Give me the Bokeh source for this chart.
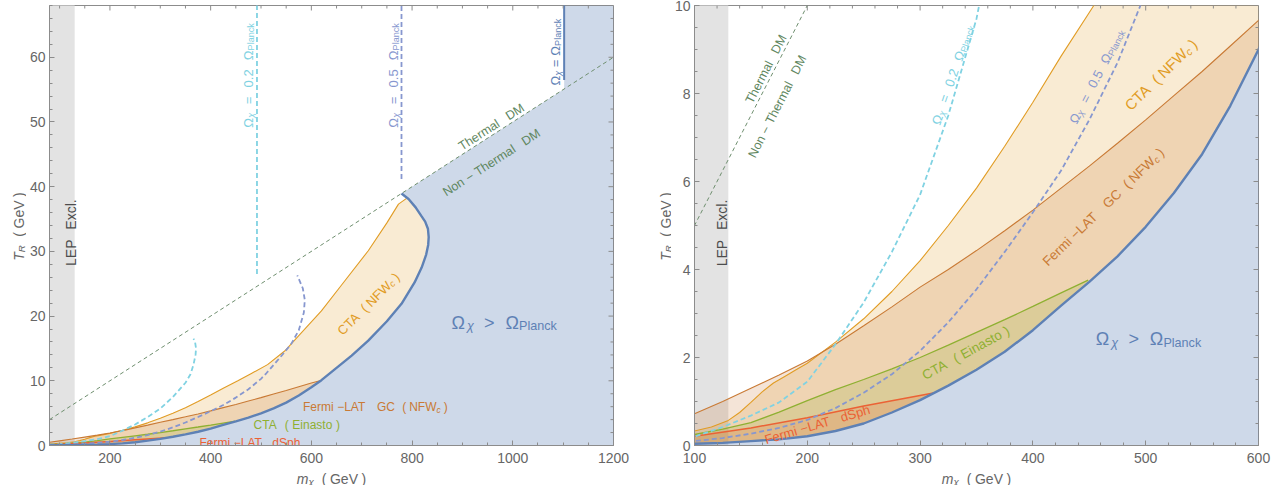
import math
from bokeh.plotting import figure
from bokeh.layouts import row, column
from bokeh.models import Range1d, SingleIntervalTicker, ColumnDataSource
from bokeh.core.properties import value
from bokeh.embed import file_html
from bokeh.resources import INLINE

# ---------------- data (m_chi in GeV, T_R in GeV) ----------------
# Omega_chi = Omega_Planck boundary (non-thermal branch)
planck_m = [80, 100, 125, 150, 175, 200, 225, 250, 275, 300, 325, 350, 375, 400, 425, 450, 475, 500,
            525, 550, 575, 600, 620, 650, 680, 713, 750, 779, 805, 819, 828, 832, 833, 831.5, 826, 819,
            807, 793, 779]
planck_T = [0.02, 0.04, 0.06, 0.1, 0.14, 0.21, 0.33, 0.5, 0.75, 1.03, 1.36, 1.72, 2.13, 2.62, 3.18, 3.72,
            4.3, 4.97, 5.74, 6.62, 7.72, 9.0, 10.1, 12.0, 13.9, 16.2, 19.2, 21.9, 25.2, 27.5, 29.5, 31.0,
            32.2, 33.5, 34.6, 35.4, 36.8, 38.1, 38.95]
# CTA (NFW_c) upper limit
cta_m = [80, 100, 115, 130, 140, 150, 160, 170, 180, 190, 200, 225, 250, 275, 300, 325, 350, 375, 400,
         425, 454, 480, 513, 547, 580, 620, 660, 713, 750, 773, 789]
cta_T = [0.18, 0.33, 0.42, 0.57, 0.75, 0.98, 1.22, 1.42, 1.57, 1.72, 1.87, 2.35, 2.88, 3.5, 4.2, 5.0,
         5.85, 6.8, 7.8, 8.85, 10.0, 11.1, 12.5, 14.6, 17.4, 20.8, 24.8, 30.1, 34.4, 37.3, 38.2]
# Fermi-LAT GC (NFW_c)
gc_m = [80, 100, 125, 150, 175, 200, 225, 250, 275, 300, 325, 350, 375, 400, 425, 450, 475, 500, 525,
        550, 575, 600, 617]
gc_T = [0.5, 0.72, 1.0, 1.3, 1.6, 1.92, 2.3, 2.72, 3.15, 3.6, 4.0, 4.43, 4.88, 5.35, 5.85, 6.35, 6.87,
        7.4, 7.95, 8.5, 9.08, 9.66, 10.0]
# CTA (Einasto)
ein_m = [80, 100, 125, 150, 175, 200, 225, 250, 275, 300, 325, 350, 375, 400, 425, 449]
ein_T = [0.17, 0.25, 0.37, 0.52, 0.76, 1.02, 1.27, 1.5, 1.74, 2.0, 2.28, 2.57, 2.86, 3.16, 3.47, 3.76]
# Fermi-LAT dSph
dsph_m = [80, 100, 150, 200, 250, 313]
dsph_T = [0.15, 0.21, 0.4, 0.63, 0.9, 1.2]
# Omega_chi = 0.2 Omega_Planck (non-thermal branch)
om02_m = [80, 100, 125, 150, 175, 200, 225, 250, 275, 300, 325, 350, 360, 366, 370, 371, 369, 366]
om02_T = [0.12, 0.2, 0.42, 0.68, 0.98, 1.45, 2.3, 3.25, 4.4, 5.7, 7.5, 9.7, 11.0, 12.5, 14.0, 15.0, 16.0, 16.5]
# Omega_chi = 0.5 Omega_Planck (non-thermal branch)
om05_m = [80, 100, 125, 150, 175, 200, 225, 250, 275, 300, 325, 350, 375, 400, 425, 450, 475, 500,
          511, 540, 560, 575, 585, 587, 583, 572]
om05_T = [0.06, 0.1, 0.17, 0.27, 0.4, 0.58, 0.85, 1.2, 1.62, 2.15, 2.8, 3.55, 4.4, 5.3, 6.25, 7.4, 8.7,
          10.3, 11.2, 13.8, 15.7, 17.8, 20.5, 22.5, 24.3, 26.3]
# thermal / non-thermal boundary
thermal_m = [80, 1200]
thermal_T = [4.0, 60.0]
# point on that boundary where the Omega > Omega_Planck region turns vertical
thermal_edge_m = [1102]
thermal_edge_T = [55.1]
# thermal branch (vertical) contours: 0.2, 0.5, 1.0 Omega_Planck
therm_vert_m = [492, 779, 1102]
therm_vert_T0 = [26.5, 41.2, 56.5]
LEP_LIMIT = 130

X_LEFT, Y_LEFT = (80, 1200), (0, 68)
X_RIGHT, Y_RIGHT = (100, 600), (0, 10)

# ---------------- style ----------------
FONT = "Liberation Sans"
BLUE = "#5e81b5"
ORANGE = "#e19c24"
BROWN = "#c97a35"
GREEN = "#8fb032"
RED = "#eb6235"
CYAN = "#80d2e2"
PURPLE = "#8797cf"
TH_TXT = "#5f875f"
TH_LINE = "#6e8e6e"
LEP_COL = "#e3e3e3"
AXIS_COL = "#8c8c8c"
LABEL_COL = "#666666"
FW, FH = 564, 440
TOP, BOT = 5, 20

AW = {' ': 278, '(': 333, ')': 333, '.': 278, '=': 584, '>': 584, '\u2212': 584, '-': 333,
      'A': 667, 'C': 722, 'D': 722, 'E': 667, 'F': 611, 'G': 778, 'L': 556, 'M': 833, 'N': 722,
      'P': 667, 'T': 611, 'W': 944, 'R': 722, 'S': 667, 'V': 667,
      'a': 556, 'c': 500, 'd': 556, 'e': 556, 'h': 556, 'i': 222, 'k': 500, 'l': 222, 'm': 833,
      'n': 556, 'o': 556, 'p': 556, 'r': 333, 's': 500, 't': 278, 'x': 500,
      '\u03a9': 760, '\u03c7': 500}


def seg_layout(segs, size):
    items, total = [], 0.0
    for txt, kind in segs:
        if kind == 'g':
            total += txt * size
            continue
        sub = kind.startswith('s')
        fs = size * 0.7 if sub else size
        st = 'italic' if kind.endswith('i') else 'normal'
        w = sum(AW.get(c, 556) for c in txt) / 1000.0 * fs
        perp = -0.36 * size - (0.2 * size if sub else 0.0)
        items.append((txt, fs, st, total, perp))
        total += w
    return [(t, fs, st, d - total / 2.0, pp) for (t, fs, st, d, pp) in items]


def data_label(p, x, y, angle, segs, color, size, scale):
    kx, ky = scale
    a = math.radians(angle)
    ca, sa = math.cos(a), math.sin(a)
    src = dict(x=[], y=[], t=[], fs=[], st=[])
    for t, fs, st, d, pp in seg_layout(segs, size):
        px = d * ca - pp * sa
        py = d * sa + pp * ca
        src['x'].append(x + px / kx)
        src['y'].append(y + py / ky)
        src['t'].append(t)
        src['fs'].append("%.2fpx" % fs)
        src['st'].append(st)
    p.text(x='x', y='y', text='t', source=ColumnDataSource(src), angle=a,
           text_align='left', text_baseline='alphabetic', text_font=value(FONT),
           text_font_size='fs', text_font_style='st', text_color=color)


def closed_region(cm, cT):
    idx = [i for i in range(len(planck_m)) if planck_T[i] < cT[-1]]
    xs = list(cm) + [planck_m[i] for i in reversed(idx)]
    ys = list(cT) + [planck_T[i] for i in reversed(idx)]
    return xs, ys


def tick_values(lo, hi, interval, nminor):
    step = interval / nminor
    major, minor = [], []
    k = math.ceil(lo / step - 1e-9)
    while k * step <= hi + 1e-9:
        v = k * step
        if abs(v / interval - round(v / interval)) < 1e-9:
            major.append(v)
        else:
            minor.append(v)
        k += 1
    return major, minor


def frame_ticks(p, xr, yr, scale, xint, xminor, yint, yminor):
    kx, ky = scale
    xM, xm = tick_values(xr[0], xr[1], xint, xminor)
    yM, ym = tick_values(yr[0], yr[1], yint, yminor)
    for vals, ln in ((xM, 5), (xm, 3)):
        p.segment(x0=vals, y0=[yr[1]] * len(vals), x1=vals, y1=[yr[1] - ln / ky] * len(vals),
                  line_color=AXIS_COL, line_width=1)
    for vals, ln in ((yM, 5), (ym, 3)):
        p.segment(x0=[xr[1]] * len(vals), y0=vals, x1=[xr[1] - ln / kx] * len(vals), y1=vals,
                  line_color=AXIS_COL, line_width=1)


def make_fig(xr, yr, bl, br, xint, xminor, yint, yminor):
    p = figure(x_range=Range1d(*xr), y_range=Range1d(*yr), frame_width=FW, frame_height=FH,
               min_border_left=bl, min_border_right=br, min_border_top=TOP, min_border_bottom=BOT,
               output_backend="svg", toolbar_location=None)
    p.background_fill_color = "white"
    p.border_fill_color = "white"
    p.outline_line_color = AXIS_COL
    p.grid.visible = False
    p.xaxis.ticker = SingleIntervalTicker(interval=xint, num_minor_ticks=xminor)
    p.yaxis.ticker = SingleIntervalTicker(interval=yint, num_minor_ticks=yminor)
    for ax in p.axis:
        ax.axis_line_color = AXIS_COL
        ax.major_tick_line_color = AXIS_COL
        ax.minor_tick_line_color = AXIS_COL
        ax.major_tick_in = 5
        ax.major_tick_out = 0
        ax.minor_tick_in = 3
        ax.minor_tick_out = 0
        ax.major_label_text_font = FONT
        ax.major_label_text_font_size = "14px"
        ax.major_label_text_color = LABEL_COL
    p.xaxis.major_label_standoff = 7
    p.yaxis.major_label_standoff = 4
    scale = (FW / (xr[1] - xr[0]), FH / (yr[1] - yr[0]))

    # LEP exclusion
    p.quad(left=xr[0] - 50, right=LEP_LIMIT, bottom=yr[0] - 10, top=yr[1] + 10,
           fill_color=LEP_COL, line_color=None)
    # Omega > Omega_Planck region
    bx = planck_m + thermal_edge_m + [thermal_edge_m[0], X_LEFT[1], X_LEFT[1], planck_m[0]]
    by = planck_T + thermal_edge_T + [Y_LEFT[1], Y_LEFT[1], 0, 0]
    p.patch(bx, by, fill_color=BLUE, fill_alpha=0.3, line_color=None)
    # indirect detection regions
    for cm, cT, col in ((cta_m, cta_T, ORANGE), (gc_m, gc_T, BROWN), (ein_m, ein_T, GREEN), (dsph_m, dsph_T, RED)):
        xs, ys = closed_region(cm, cT)
        p.patch(xs, ys, fill_color=col, fill_alpha=0.2, line_color=None)
    # boundary lines
    p.line(thermal_m, thermal_T, line_color=TH_LINE, line_width=1, line_dash="4 3")
    p.line(cta_m, cta_T, line_color=ORANGE, line_width=1.1)
    p.line(gc_m, gc_T, line_color=BROWN, line_width=1.1)
    p.line(ein_m, ein_T, line_color=GREEN, line_width=1.3)
    p.line(dsph_m, dsph_T, line_color=RED, line_width=1.5)
    p.line(om02_m, om02_T, line_color=CYAN, line_width=1.8, line_dash="5 3")
    p.line(om05_m, om05_T, line_color=PURPLE, line_width=1.8, line_dash="5 3")
    p.line(planck_m, planck_T, line_color=BLUE, line_width=2.4)
    top = [Y_LEFT[1] + 5]
    p.segment(x0=therm_vert_m[0:1], y0=therm_vert_T0[0:1], x1=therm_vert_m[0:1], y1=top,
              line_color=CYAN, line_width=1.8, line_dash="5 3")
    p.segment(x0=therm_vert_m[1:2], y0=therm_vert_T0[1:2], x1=therm_vert_m[1:2], y1=top,
              line_color=PURPLE, line_width=1.8, line_dash="5 3")
    p.segment(x0=therm_vert_m[2:3], y0=therm_vert_T0[2:3], x1=therm_vert_m[2:3], y1=top,
              line_color=BLUE, line_width=2.0)
    frame_ticks(p, xr, yr, scale, xint, xminor, yint, yminor)
    return p, scale


def blank_fig(w, h, top, bottom):
    f = figure(x_range=Range1d(0, w), y_range=Range1d(0, h), frame_width=w, frame_height=h,
               min_border_left=0, min_border_right=0, min_border_top=top, min_border_bottom=bottom,
               output_backend="svg", toolbar_location=None)
    f.axis.visible = False
    f.grid.visible = False
    f.outline_line_color = None
    f.background_fill_color = "white"
    f.border_fill_color = "white"
    return f


SUB_OM = [("\u03a9", 'n'), ("\u03c7", 'si')]
PLANCK = [("\u03a9", 'n'), ("Planck", 's')]


def omega_frac(frac):
    return SUB_OM + [(0.7, 'g'), ("=", 'n'), (0.7, 'g'), (frac, 'n'), (0.7, 'g')] + PLANCK


OM_EQ = SUB_OM + [(0.3, 'g'), ("=", 'n'), (0.3, 'g')] + PLANCK
OM_GT = [("\u03a9", 'n'), (0.1, 'g'), ("\u03c7", 'si'), (0.6, 'g'), (">", 'n'), (0.6, 'g')] + PLANCK
LEP_T = [("LEP", 'n'), (0.7, 'g'), ("Excl.", 'n')]
TH_T = [("Thermal", 'n'), (0.8, 'g'), ("DM", 'n')]
NTH_T = [("Non", 'n'), (0.3, 'g'), ("\u2212", 'n'), (0.3, 'g'), ("Thermal", 'n'), (0.8, 'g'), ("DM", 'n')]
CTA_N = [("CTA", 'n'), (0.5, 'g'), ("(", 'n'), (0.25, 'g'), ("NFW", 'n'), ("c", 'si'), (0.25, 'g'), (")", 'n')]
GC_N = [("Fermi", 'n'), (0.3, 'g'), ("\u2212LAT", 'n'), (0.9, 'g'), ("GC", 'n'), (0.6, 'g'), ("(", 'n'),
        (0.25, 'g'), ("NFW", 'n'), ("c", 'si'), (0.25, 'g'), (")", 'n')]
EIN_N = [("CTA", 'n'), (0.6, 'g'), ("(", 'n'), (0.3, 'g'), ("Einasto", 'n'), (0.3, 'g'), (")", 'n')]
DSPH_N = [("Fermi", 'n'), (0.3, 'g'), ("\u2212LAT", 'n'), (0.8, 'g'), ("dSph", 'n')]
XT = [("m", 'ni'), ("\u03c7", 'si'), (0.6, 'g'), ("(", 'n'), (0.25, 'g'), ("GeV", 'n'), (0.25, 'g'), (")", 'n')]
YT = [("T", 'ni'), ("R", 'si'), (0.6, 'g'), ("(", 'n'), (0.25, 'g'), ("GeV", 'n'), (0.25, 'g'), (")", 'n')]

# layout widths (px)
TY1_W, P1_BL, P1_BR, TY2_W, P2_BL, P2_BR = 26, 23, 30, 28, 23, 14

# ---------------- left panel ----------------
p1, sL = make_fig(X_LEFT, Y_LEFT, P1_BL, P1_BR, 200, 4, 10, 5)
thL = math.degrees(math.atan((thermal_T[1] - thermal_T[0]) / (thermal_m[1] - thermal_m[0]) * sL[1] / sL[0]))
data_label(p1, 112, 32.9, 90, LEP_T, "#4d4d4d", 14, sL)
data_label(p1, 466, 57.2, 90, omega_frac("0.2"), CYAN, 13, sL)
data_label(p1, 753, 57.2, 90, omega_frac("0.5"), PURPLE, 13, sL)
data_label(p1, 1076, 60.8, 90, OM_EQ, BLUE, 13, sL)
data_label(p1, 953, 49.8, thL, TH_T, TH_TXT, 12.5, sL)
data_label(p1, 953, 44.3, thL, NTH_T, TH_TXT, 12.5, sL)
data_label(p1, 707, 22.4, 45, CTA_N, ORANGE, 13, sL)
data_label(p1, 983, 20.0, 0, OM_GT, BLUE, 18, sL)
data_label(p1, 727, 6.6, 0, GC_N, BROWN, 12, sL)
data_label(p1, 571, 3.8, 0, EIN_N, GREEN, 12, sL)
data_label(p1, 478, 1.05, 0, DSPH_N, RED, 12, sL)

# ---------------- right panel ----------------
p2, sR = make_fig(X_RIGHT, Y_RIGHT, P2_BL, P2_BR, 100, 5, 2, 4)
thR = math.degrees(math.atan((thermal_T[1] - thermal_T[0]) / (thermal_m[1] - thermal_m[0]) * sR[1] / sR[0]))
data_label(p2, 120, 4.83, 90, LEP_T, "#4d4d4d", 14, sR)
data_label(p2, 160, 8.6, thR, TH_T, TH_TXT, 12.5, sR)
data_label(p2, 170, 7.75, thR, NTH_T, TH_TXT, 12.5, sR)
data_label(p2, 325, 8.46, 71, omega_frac("0.2"), CYAN, 13, sR)
data_label(p2, 453, 8.44, 62.7, omega_frac("0.5"), PURPLE, 13, sR)
data_label(p2, 510, 8.52, 44.4, CTA_N, ORANGE, 15, sR)
data_label(p2, 459.5, 5.5, 44, GC_N, BROWN, 13.5, sR)
data_label(p2, 338.5, 2.2, 28.6, EIN_N, GREEN, 13.5, sR)
data_label(p2, 207.7, 0.58, 16.4, DSPH_N, RED, 13, sR)
data_label(p2, 502.5, 2.56, 0, OM_GT, BLUE, 18, sR)

# ---------------- axis titles ----------------
ty1 = blank_fig(TY1_W, FH, TOP, BOT)
data_label(ty1, 13, 219, 90, YT, LABEL_COL, 14, (1, 1))
ty2 = blank_fig(TY2_W, FH, TOP, BOT)
data_label(ty2, 17, 219, 90, YT, LABEL_COL, 14, (1, 1))
TOTAL_W = TY1_W + P1_BL + FW + P1_BR + TY2_W + P2_BL + FW + P2_BR
TX_H = 20
tx = blank_fig(TOTAL_W, TX_H, 0, 0)
x1c = TY1_W + P1_BL + FW / 2
x2c = TY1_W + P1_BL + FW + P1_BR + TY2_W + P2_BL + FW / 2
data_label(tx, x1c, 12, 0, XT, LABEL_COL, 14, (1, 1))
data_label(tx, x2c, 12, 0, XT, LABEL_COL, 14, (1, 1))

layout = column(row(ty1, p1, ty2, p2), tx)
open("out.html", "w").write(file_html(layout, INLINE))
